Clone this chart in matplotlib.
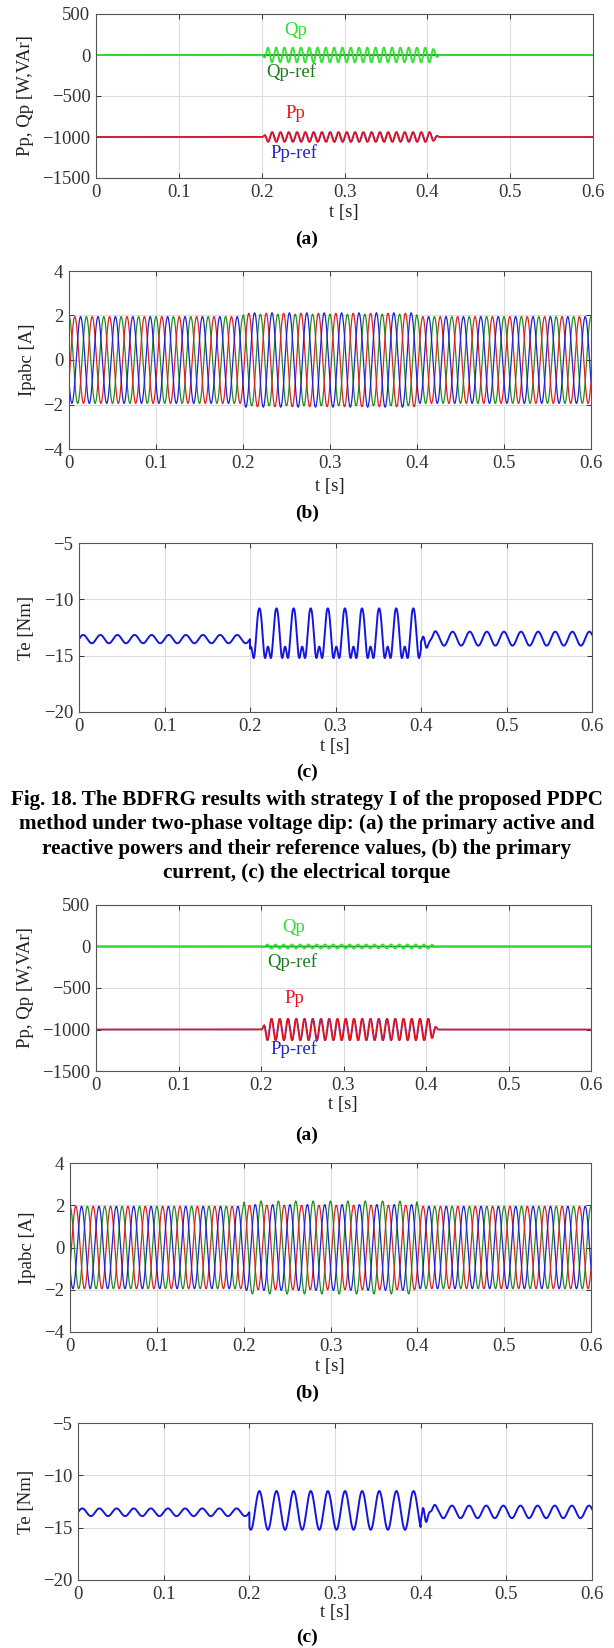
import numpy as np
import matplotlib
matplotlib.use("Agg")
import matplotlib.pyplot as plt

plt.rcParams['font.family'] = ['Liberation Serif', 'DejaVu Serif']

# ---------------- values ----------------
t_end = 0.6
grid_freq = 50.0                 # Hz
dip_on, dip_off = 0.2, 0.4

x_ticks = [0, 0.1, 0.2, 0.3, 0.4, 0.5, 0.6]
x_tick_labels = ["0", "0.1", "0.2", "0.3", "0.4", "0.5", "0.6"]
pq_ticks = [500, 0, -500, -1000, -1500]
i_ticks = [4, 2, 0, -2, -4]
te_ticks = [-5, -10, -15, -20]

# powers: reference levels and 100 Hz oscillation amplitude (before / during / after dip)
pp_ref_level = -1000
qp_ref_level = 0
pp_osc_I = [0, 60, 0]
qp_osc_I = [0, 90, 0]
pp_osc_II = [0, 130, 0]
qp_osc_II = [0, 24, 0]

# primary currents: peak amplitude per phase (before / during / after dip)
ia_amp_I = [1.95, 2.10, 1.95]    # red
ib_amp_I = [1.95, 2.12, 1.95]    # blue
ic_amp_I = [1.95, 2.06, 1.95]    # green
ia_amp_II = [1.95, 2.00, 1.95]
ib_amp_II = [1.95, 2.03, 1.95]
ic_amp_II = [1.95, 2.20, 1.95]

# electrical torque: mean, 50/100/150 Hz amplitudes and time of a peak, per segment
te_mean_I = [-13.53, -13.47, -13.49]
te_h1_I = [0.37, 1.97, 0.62]
te_h2_I = [0.0, 0.97, 0.0]
te_h3_I = [0.0, -0.27, 0.0]
te_peak_I = [0.005, 0.211, 0.417]
te_kick_I = 0.6        # short 150 Hz transient after the dip clears

te_mean_II = [-13.53, -13.35, -13.49]
te_h1_II = [0.37, 1.85, 0.60]
te_h2_II = [0.0, 0.0, 0.0]
te_h3_II = [0.0, 0.0, 0.0]
te_peak_II = [0.005, 0.2117, 0.4165]
te_kick_II = 1.1

caption_lines = [
    "Fig. 18. The BDFRG results with strategy I of the proposed PDPC",
    "method under two-phase voltage dip: (a) the primary active and",
    "reactive powers and their reference values, (b) the primary",
    "current, (c) the electrical torque",
]

# ---------------- build waveforms from the values ----------------
t = np.linspace(0, t_end, 12001)
w = 2 * np.pi * grid_freq


def smooth(x):
    x = np.clip(x, 0, 1)
    return x * x * (3 - 2 * x)


dip_env = smooth((t - dip_on) / 0.008) * (1 - smooth((t - dip_off - 0.004) / 0.012))
seg = np.where(t < dip_on, 0, np.where(t < dip_off, 1, 2))


def power_wave(level, amps, phase_shift=0.0, sign=1.0):
    a = amps[1] * dip_env
    return level + sign * a * np.sin(2 * w * (t - dip_on - phase_shift))


def current_wave(amps, phi):
    a = np.where(t < dip_on, amps[0], np.where(t < dip_off, amps[1], amps[2]))
    k = np.ones(25) / 25
    a = np.convolve(np.pad(a, 12, mode='edge'), k, mode='valid')
    return a * np.cos(w * t - phi)


def torque_wave(mean, h1, h2, h3, tp, kick):
    m = np.array(mean)[seg]
    th = w * (t - np.array(tp)[seg])
    y = (m + np.array(h1)[seg] * np.cos(th) + np.array(h2)[seg] * np.cos(2 * th)
         + np.array(h3)[seg] * np.cos(3 * th))
    after = t >= dip_off
    tau = np.where(after, t - dip_off, 0.0)
    y = y - after * kick * np.exp(-tau / 0.006) * np.cos(3 * w * tau)
    return y


# ---------------- figure ----------------
W, H = 614, 1648
fig = plt.figure(figsize=(W / 100, H / 100), dpi=100)
fig.patch.set_facecolor('white')

FS = 13.5
C_QP, C_QPREF = '#2ee02e', '#1f7a1f'
C_PP, C_PPREF = '#e8141c', '#2222cc'
C_RED, C_GRN, C_BLU = '#e02020', '#238c23', '#2020d8'


def make_ax(x0, x1, top, bot):
    ax = fig.add_axes([x0 / W, 1 - bot / H, (x1 - x0) / W, (bot - top) / H])
    ax.set_xlim(0, t_end)
    ax.set_xticks(x_ticks)
    ax.set_xticklabels(x_tick_labels)
    ax.grid(True, color='#dcdcdc', lw=0.8)
    ax.set_axisbelow(True)
    ax.tick_params(direction='in', top=True, right=True, labelsize=FS,
                   colors='#333333', length=3.5, width=0.7, pad=4)
    for s in ax.spines.values():
        s.set_color('#555555')
        s.set_linewidth(0.8)
    return ax


def ftext(x, y, s, **kw):
    fig.text(x / W, 1 - y / H, s, ha='center', va='center', **kw)


def power_panel(x0, x1, top, bot, qosc, posc, lbl_pos):
    ax = make_ax(x0, x1, top, bot)
    ax.set_ylim(-1500, 500)
    ax.set_yticks(pq_ticks)
    ax.plot(t, np.full_like(t, qp_ref_level), color=C_QPREF, lw=1.2)
    ax.plot(t, power_wave(qp_ref_level, qosc, sign=-1), color=C_QP, lw=1.4, alpha=0.95)
    ax.plot(t, power_wave(pp_ref_level, posc, phase_shift=0.0006), color=C_PPREF, lw=0.9)
    ax.plot(t, power_wave(pp_ref_level, posc), color=C_PP, lw=1.2)
    (qx, qy), (qrx, qry), (px, py), (prx, pry) = lbl_pos
    ax.text(qx, qy, "Qp", color=C_QP, fontsize=FS, ha='center', va='center')
    ax.text(qrx, qry, "Qp-ref", color=C_QPREF, fontsize=FS, ha='center', va='center')
    ax.text(px, py, "Pp", color=C_PP, fontsize=FS, ha='center', va='center')
    ax.text(prx, pry, "Pp-ref", color=C_PPREF, fontsize=FS, ha='center', va='center')
    ftext(26, (top + bot) / 2, "Pp, Qp [W,VAr]", rotation=90, fontsize=FS, color='#222222')
    return ax


def current_panel(x0, x1, top, bot, ia, ib, ic):
    ax = make_ax(x0, x1, top, bot)
    ax.set_ylim(-4, 4)
    ax.set_yticks(i_ticks)
    ax.plot(t, current_wave(ic, 0.0), color=C_GRN, lw=0.9)
    ax.plot(t, current_wave(ia, 2 * np.pi / 3), color=C_RED, lw=0.9)
    ax.plot(t, current_wave(ib, 4 * np.pi / 3), color=C_BLU, lw=0.9)
    ftext(28, (top + bot) / 2, "Ipabc [A]", rotation=90, fontsize=FS, color='#222222')
    return ax


def torque_panel(x0, x1, top, bot, mean, h1, h2, h3, tp, kick):
    ax = make_ax(x0, x1, top, bot)
    ax.set_ylim(-20, -5)
    ax.set_yticks(te_ticks)
    ax.plot(t, torque_wave(mean, h1, h2, h3, tp, kick), color='#1515e0', lw=1.4)
    ftext(26, (top + bot) / 2, "Te [Nm]", rotation=90, fontsize=FS, color='#222222')
    return ax


# ----- Fig. 18 (strategy I) -----
power_panel(96, 593, 14, 178, qosc=qp_osc_I, posc=pp_osc_I,
            lbl_pos=[(0.241, 296), (0.236, -204), (0.241, -711), (0.239, -1199)])
ftext(344, 212, "t [s]", fontsize=FS, color='#222222')
ftext(307, 239, "(a)", fontsize=14, fontweight='bold')

current_panel(69, 591, 271, 449, ia_amp_I, ib_amp_I, ic_amp_I)
ftext(330, 487, "t [s]", fontsize=FS, color='#222222')
ftext(307, 513, "(b)", fontsize=14, fontweight='bold')

torque_panel(79, 592, 543, 712, te_mean_I, te_h1_I, te_h2_I, te_h3_I, te_peak_I, te_kick_I)
ftext(335, 747, "t [s]", fontsize=FS, color='#222222')
ftext(307, 772, "(c)", fontsize=14, fontweight='bold')

for i, line in enumerate(caption_lines):
    ftext(307, 800 + i * 24.3, line, fontsize=15.2, fontweight='bold')

# ----- strategy II -----
power_panel(96, 591, 905, 1071, qosc=qp_osc_II, posc=pp_osc_II,
            lbl_pos=[(0.24, 228), (0.238, -191), (0.241, -630), (0.24, -1237)])
ftext(343, 1105, "t [s]", fontsize=FS, color='#222222')
ftext(307, 1135, "(a)", fontsize=14, fontweight='bold')

current_panel(70, 591, 1163, 1332, ia_amp_II, ib_amp_II, ic_amp_II)
ftext(330, 1367, "t [s]", fontsize=FS, color='#222222')
ftext(307, 1393, "(b)", fontsize=14, fontweight='bold')

torque_panel(78, 592, 1423, 1580, te_mean_II, te_h1_II, te_h2_II, te_h3_II, te_peak_II, te_kick_II)
ftext(335, 1613, "t [s]", fontsize=FS, color='#222222')
ftext(307, 1637, "(c)", fontsize=14, fontweight='bold')

fig.savefig("out.png", dpi=100, facecolor='white')
